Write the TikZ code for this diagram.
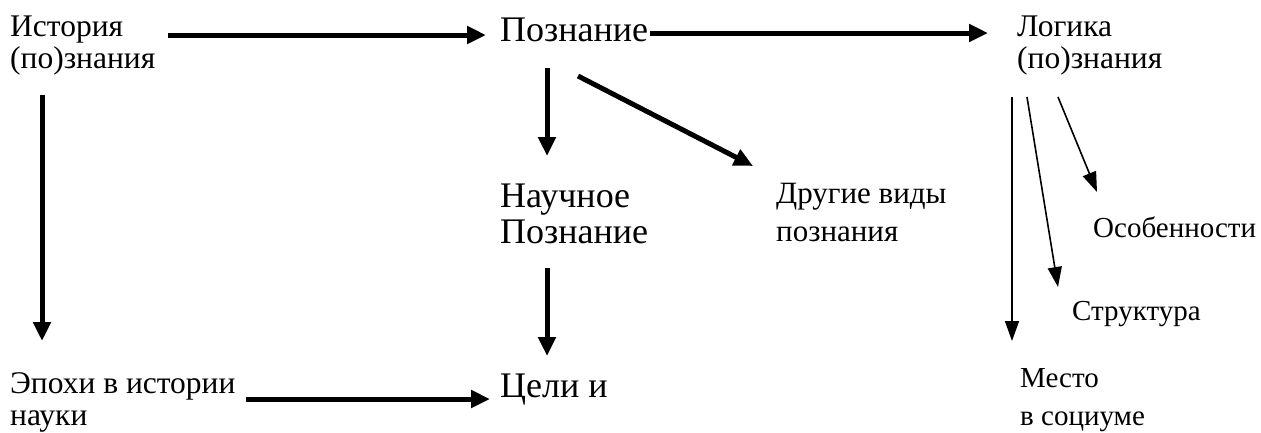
\documentclass[tikz,border=0pt]{standalone}
\usepackage{fontspec}
\setmainfont{Liberation Serif}
\usetikzlibrary{arrows.meta}
\newcommand\twolines[2]{\vtop{\hbox{#1}\hbox{#2}}}
\tikzset{
  lbl/.style={anchor=base west, inner sep=0pt, font=\fontsize{31.5}{32}\selectfont},
  widelbl/.style={anchor=base west, inner sep=0pt, font=\fontsize{31}{38}\selectfont},
  biglbl/.style={anchor=base west, inner sep=0pt, font=\fontsize{36}{36}\selectfont},
  smalllbl/.style={anchor=base west, inner sep=0pt, font=\fontsize{29}{38}\selectfont},
  thick arrow/.style={line width=5pt, -{Triangle[length=19pt,width=17pt]}},
  thin arrow/.style={line width=1.6pt, -{Triangle[length=20pt,width=14pt]}},
}
\begin{document}
\begin{tikzpicture}[x=1pt,y=-1pt]
\useasboundingbox (0,0) rectangle (1261,432);
% labels
\node[lbl] (hist) at (10,36) {\twolines{История}{(по)знания}};
\node[biglbl] (pozn) at (500,41) {Познание};
\node[lbl] (logic) at (1017,36) {\twolines{Логика}{(по)знания}};
\node[biglbl] (nauch) at (500,207) {\twolines{Научное}{Познание}};
\node[widelbl] (other) at (776,203) {\twolines{Другие виды}{познания}};
\node[biglbl] (goals) at (500,397) {Цели и};
\node[lbl] (epoch) at (10,393) {\twolines{Эпохи в истории}{науки}};
\node[smalllbl] (feat) at (1093,237) {Особенности};
\node[smalllbl] (struct) at (1072,320) {Структура};
\node[smalllbl] (place) at (1020,387) {\twolines{Место}{в социуме}};
% arrow ends
\coordinate (a1s) at (168,35);  \coordinate (a1e) at (486,35);
\coordinate (a2s) at (650,33);  \coordinate (a2e) at (988,33);
\coordinate (a3s) at (547,68);  \coordinate (a3e) at (547,156);
\coordinate (a4s) at (578,76);  \coordinate (a4e) at (753,166);
\coordinate (a5s) at (547,268); \coordinate (a5e) at (547,356);
\coordinate (a6s) at (42,95);   \coordinate (a6e) at (42,341);
\coordinate (a7s) at (246,399); \coordinate (a7e) at (490,399);
\coordinate (b1s) at (1012,97); \coordinate (b1e) at (1012,341);
\coordinate (b2s) at (1027,97); \coordinate (b2e) at (1058,287);
\coordinate (b3s) at (1058,97); \coordinate (b3e) at (1097,192);
% connectors
\draw[thick arrow] (a1s) -- (a1e);
\draw[thick arrow] (a2s) -- (a2e);
\draw[thick arrow] (a3s) -- (a3e);
\draw[thick arrow] (a4s) -- (a4e);
\draw[thick arrow] (a5s) -- (a5e);
\draw[thick arrow] (a6s) -- (a6e);
\draw[thick arrow] (a7s) -- (a7e);
\draw[thin arrow] (b1s) -- (b1e);
\draw[thin arrow] (b2s) -- (b2e);
\draw[thin arrow] (b3s) -- (b3e);
\end{tikzpicture}
\end{document}
